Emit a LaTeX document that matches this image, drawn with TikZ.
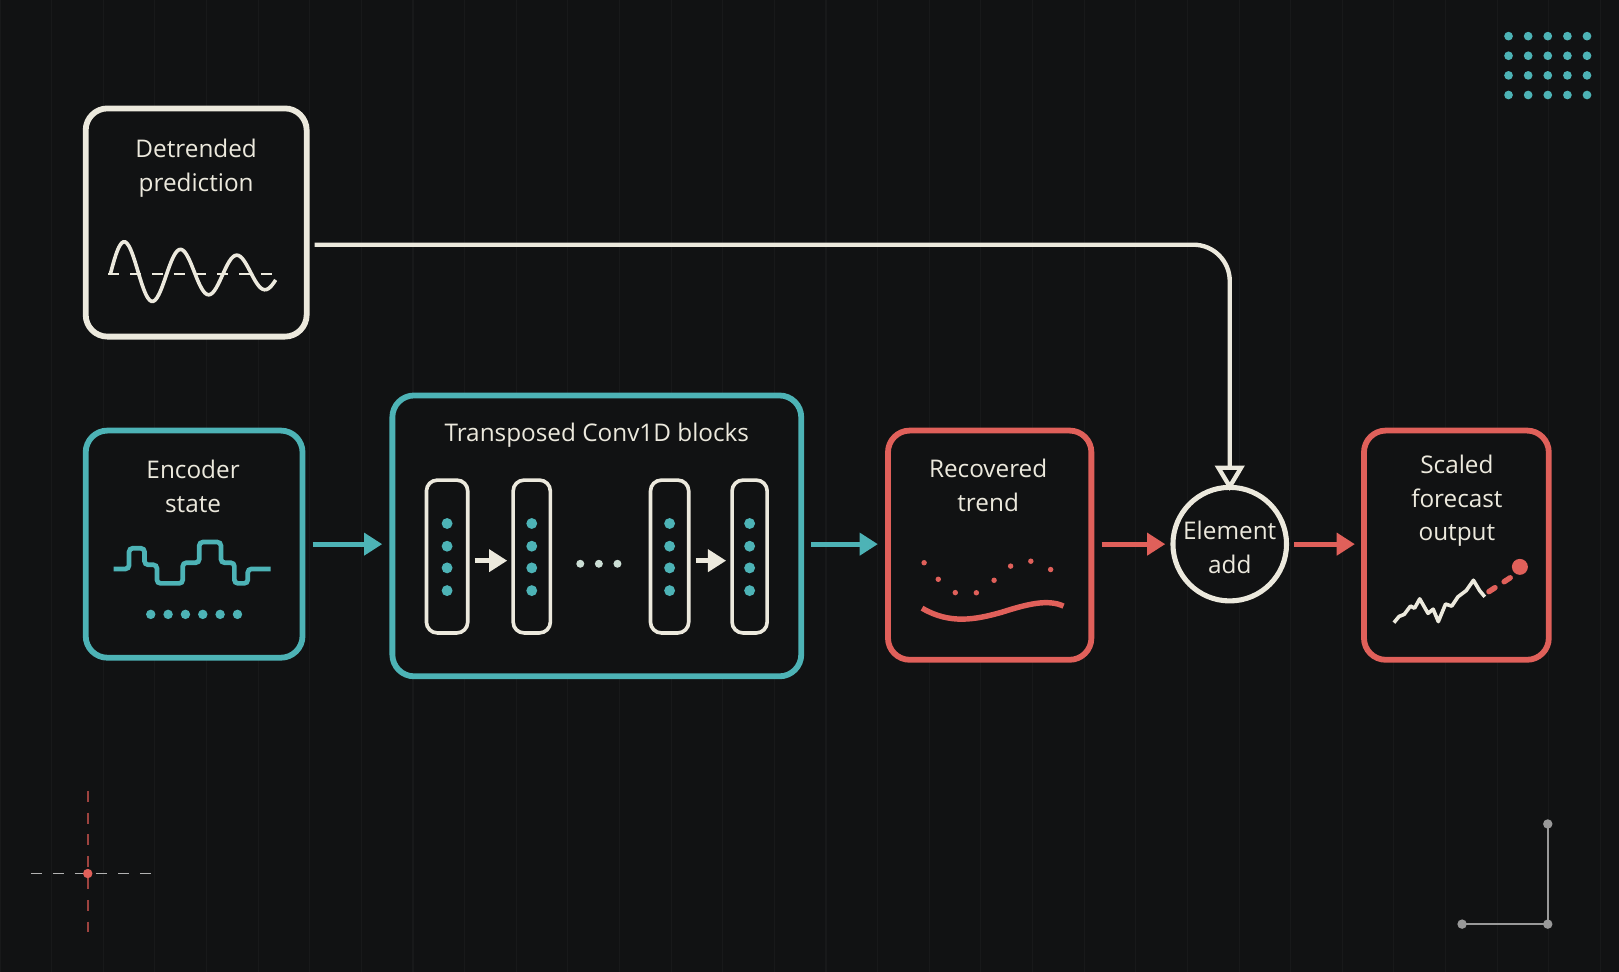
\documentclass[tikz,border=0pt]{standalone}
\usepackage{fontspec}
\setmainfont{Open Sans}
\usetikzlibrary{arrows.meta,positioning}
\definecolor{bgc}{HTML}{111213}
\definecolor{gridc}{HTML}{18191A}
\definecolor{teal}{HTML}{4DB3B6}
\definecolor{coral}{HTML}{E0605A}
\definecolor{cream}{HTML}{ECE9DD}
\tikzset{
	panel/.style = {draw, line width=1.6pt, rounded corners=6pt, fill=bgc},
	lbl/.style = {text=cream, align=center, font=\fontsize{6.7}{9.2}\selectfont},
	col/.style = {draw=cream, line width=1pt, rounded corners=3pt, minimum width=#1, minimum height=1.48cm},
	flow/.style = {line width=1.4pt, -{Triangle[length=5pt,width=6pt]}},
}

\begin{document}
\begin{tikzpicture}[y=-1cm]
	\fill[bgc] (0,0) rectangle (15.68,9.41);
	\useasboundingbox (0,0) rectangle (15.68,9.41);
	\draw[gridc, line width=.3pt] (0,0) grid[step=.5] (15.68,9.41);
	% boxes
	\node[panel, draw=cream, minimum width=2.14cm, minimum height=2.21cm] (detr) at (1.90,2.155) {};
	\node[panel, draw=teal, minimum width=2.10cm, minimum height=2.20cm] (enc) at (1.88,5.27) {};
	\node[panel, draw=teal, minimum width=3.96cm, minimum height=2.72cm] (conv) at (5.78,5.19) {};
	\node[panel, draw=coral, minimum width=1.97cm, minimum height=2.22cm] (rec) at (9.585,5.28) {};
	\node[circle, draw=cream, line width=1.4pt, minimum size=1.1cm, fill=bgc] (add) at (11.91,5.27) {};
	\node[panel, draw=coral, minimum width=1.79cm, minimum height=2.22cm] (out) at (14.105,5.28) {};
	% labels
	\node[lbl] (detrT) at (1.90,1.63) {Detrended\\prediction};
	\node[lbl] (encT) at (1.87,4.71) {Encoder\\state};
	\node[lbl] (convT) at (5.78,4.21) {Transposed Conv1D blocks};
	\node[lbl] (recT) at (9.57,4.70) {Recovered\\trend};
	\node[lbl] (addT) at (11.91,5.30) {Element\\add};
	\node[lbl] (outT) at (14.11,4.85) {Scaled\\forecast\\output};
	% glyphs
	\draw[cream, dashed, line width=.5pt] (1.05,2.65) -- (2.72,2.65);
	\draw[cream, line width=1pt, domain=0:1.6, samples=90, smooth]
		plot ({1.07+\x}, {2.65-0.33*exp(-0.5*\x)*sin(\x*660)});
	\draw[teal, line width=1.3pt, rounded corners=1pt] (1.10,5.51) -- (1.25,5.51) -- (1.25,5.31) -- (1.40,5.31) -- (1.40,5.47)
		-- (1.52,5.47) -- (1.52,5.65) -- (1.77,5.65) -- (1.77,5.45) -- (1.93,5.45) -- (1.93,5.25) -- (2.14,5.25)
		-- (2.14,5.45) -- (2.27,5.45) -- (2.27,5.65) -- (2.40,5.65) -- (2.40,5.51) -- (2.62,5.51);
	\foreach \i in {0,...,5} \fill[teal] (1.46+\i*.168,5.95) circle (1.3pt);
	% conv columns
	\node[col=0.40cm] (c1) at (4.33,5.39) {};
	\node[col=0.36cm] (c2) at (5.15,5.39) {};
	\node[col=0.37cm] (c3) at (6.485,5.39) {};
	\node[col=0.34cm] (c4) at (7.26,5.39) {};
	\foreach \c in {c1,c2,c3,c4}
		\foreach \d in {-0.32,-0.10,0.11,0.33} \fill[teal] ([yshift=-\d cm]\c.center) circle (1.5pt);
	\draw[cream, line width=1.2pt, -{Triangle[length=5pt,width=6pt]}] ([shift={(.05,.04)}]c1.east) -- ([shift={(-.04,.04)}]c2.west);
	\draw[cream, line width=1.2pt, -{Triangle[length=5pt,width=6pt]}] ([shift={(.05,.04)}]c3.east) -- ([shift={(-.04,.04)}]c4.west);
	\foreach \x in {5.62,5.80,5.98} \fill[cream!80!teal] (\x,5.46) circle (1.1pt);
	% trend
	\draw[coral, line width=1.5pt, line cap=round, dash pattern=on 0pt off 6pt]
		(8.95,5.45) .. controls (9.15,5.70) and (9.25,5.78) .. (9.40,5.76) .. controls (9.60,5.72) and (9.80,5.38) .. (9.95,5.43)
		.. controls (10.10,5.45) and (10.18,5.50) .. (10.22,5.57);
	\draw[coral, line width=1.5pt] (8.93,5.89) .. controls (9.20,6.05) and (9.45,6.00) .. (9.70,5.93) .. controls (9.95,5.85) and (10.15,5.80) .. (10.30,5.87);
	\draw[cream, line width=1pt, line join=round] (13.50,6.03) -- (13.55,5.97) -- (13.60,5.95) -- (13.66,5.87)
		-- (13.70,5.89) -- (13.75,5.80) -- (13.83,5.94) -- (13.88,5.90) -- (13.93,6.02) -- (14.00,5.85) -- (14.06,5.87)
		-- (14.12,5.78) -- (14.20,5.72) -- (14.27,5.62) -- (14.33,5.72) -- (14.38,5.78);
	\draw[coral, line width=1.5pt, line cap=round, dash pattern=on 2pt off 3pt] (14.42,5.73) -- (14.65,5.58);
	\fill[coral] (14.72,5.49) circle (2.2pt);
	% flow
	\draw[flow, teal] ([xshift=.07cm]enc.east) -- ([xshift=-.07cm]conv.west |- enc.east);
	\draw[flow, teal] ([xshift=.07cm]conv.east |- enc.east) -- ([xshift=-.07cm]rec.west |- enc.east);
	\draw[flow, coral] ([xshift=.07cm]rec.east |- add.west) -- ([xshift=-.05cm]add.west);
	\draw[flow, coral] ([xshift=.05cm]add.east) -- ([xshift=-.06cm]out.west |- add.east);
	\draw[cream, line width=1.2pt, rounded corners=10pt, -{Triangle[open, fill=bgc, length=7pt,width=8pt]}]
		([xshift=.05cm]detr.east |- 0,2.37) -- (add.north |- 0,2.37) -- ([yshift=-.06cm]add.north);
	% decorations
	\foreach \i in {0,...,4} \foreach \j in {0,...,3} \fill[teal] (14.61+\i*.19,.35+\j*.19) circle (1.2pt);
	\draw[gray!60, dashed, line width=.5pt] (.30,8.46) -- (1.55,8.46);
	\draw[coral!70!black, dashed, line width=.5pt] (.85,7.66) -- (.85,9.12);
	\fill[coral] (.85,8.46) circle (1.3pt);
	\draw[gray!80, line width=.6pt] (14.99,7.98) -- (14.99,8.95) -- (14.16,8.95);
	\foreach \p in {(14.99,7.98),(14.99,8.95),(14.16,8.95)} \fill[gray!80] \p circle (1.3pt);
\end{tikzpicture}
\end{document}
